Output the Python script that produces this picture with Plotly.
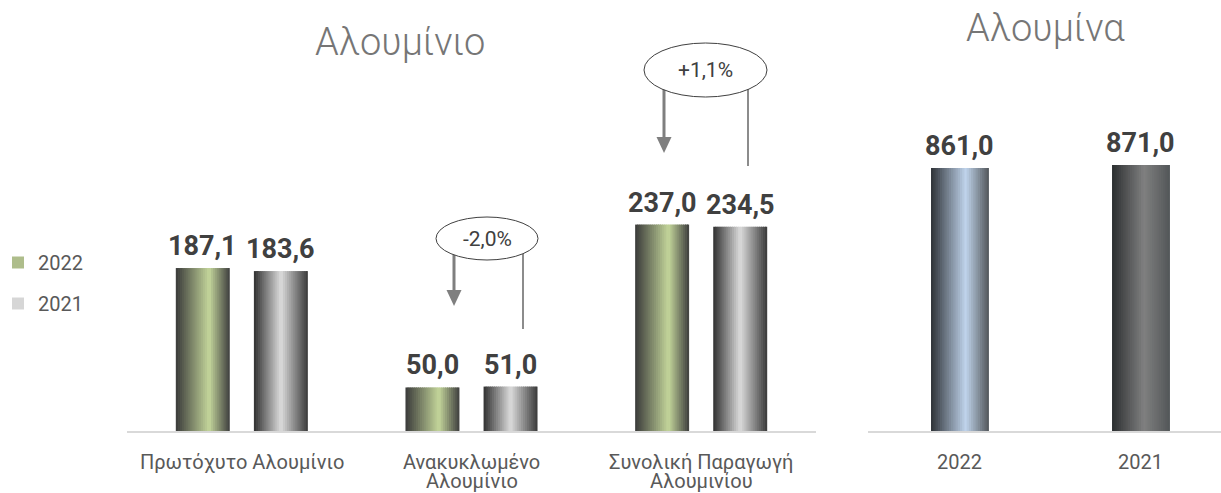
import plotly.graph_objects as go

# ---- data ----
CATEGORIES = ["Πρωτόχυτο Αλουμίνιο", "Ανακυκλωμένο<br>Αλουμίνιο", "Συνολική Παραγωγή<br>Αλουμινίου"]
ALU_2022 = [187.1, 50.0, 237.0]
ALU_2021 = [183.6, 51.0, 234.5]

ALUMINA_YEARS = ["2022", "2021"]
ALUMINA_VALUES = [861.0, 871.0]

W, H = 1221, 493
FONT = "Roboto, Inter, sans-serif"
TEXT_DARK = "#404040"
TICK_GREY = "#595959"

# gradient stops (position, rgb) - dark edges with a light streak
GREEN = [(0.0, (58, 58, 58)), (0.62, (196, 214, 155)), (1.0, (62, 62, 62))]
SILVER = [(0.0, (48, 48, 48)), (0.5, (220, 220, 220)), (1.0, (58, 58, 58))]
STEEL_BLUE = [(0.0, (46, 50, 55)), (0.6, (192, 212, 236)), (1.0, (82, 86, 90))]
GRAPHITE = [(0.0, (43, 46, 48)), (0.55, (128, 128, 128)), (1.0, (82, 86, 88))]


def mix(stops, t):
    for (p0, c0), (p1, c1) in zip(stops, stops[1:]):
        if p0 <= t <= p1:
            f = (t - p0) / (p1 - p0)
            return "rgb(%d,%d,%d)" % tuple(round(a + (b - a) * f) for a, b in zip(c0, c1))
    return "rgb(%d,%d,%d)" % stops[-1][1]


def fmt(v):
    return f"{v:.1f}".replace(".", ",")


def px(x):
    return x / W


def py(y):
    return 1 - y / H


def gradient_bars(fig, xs, ys, center, width, stops, name, xaxis, yaxis, legend, n=26):
    step = width / n
    left = center - width / 2
    for i in range(n):
        off = left + i * step
        fig.add_trace(go.Bar(
            x=xs, y=ys, offset=off, width=min(step * 1.5, center + width / 2 - off),
            marker=dict(color=mix(stops, (i + 0.5) / n), line=dict(width=0)),
            name=name, legendgroup=name, showlegend=legend and i == n // 2,
            xaxis=xaxis, yaxis=yaxis, hoverinfo="skip",
        ))


fig = go.Figure()

xs_left = list(range(len(CATEGORIES)))
xs_right = list(range(len(ALUMINA_YEARS)))
BAR_L, SHIFT_L = 0.235, 0.170
BAR_R = 0.32

gradient_bars(fig, xs_left, ALU_2022, -SHIFT_L, BAR_L, GREEN, "2022", "x", "y", True)
gradient_bars(fig, xs_left, ALU_2021, SHIFT_L, BAR_L, SILVER, "2021", "x", "y", True)
gradient_bars(fig, [xs_right[0]], [ALUMINA_VALUES[0]], 0, BAR_R, STEEL_BLUE, "a2022", "x2", "y2", False)
gradient_bars(fig, [xs_right[1]], [ALUMINA_VALUES[1]], 0, BAR_R, GRAPHITE, "a2021", "x2", "y2", False)

label_font = dict(size=27, color=TEXT_DARK, family=FONT, weight="bold")
annotations = []
for i, (a, b) in enumerate(zip(ALU_2022, ALU_2021)):
    for v, dx in ((a, -SHIFT_L), (b, SHIFT_L)):
        annotations.append(dict(x=i + dx, y=v, xref="x", yref="y", text=fmt(v),
                                showarrow=False, yanchor="bottom", yshift=4, font=label_font))
for i, v in enumerate(ALUMINA_VALUES):
    annotations.append(dict(x=i, y=v, xref="x2", yref="y2", text=fmt(v),
                            showarrow=False, yanchor="bottom", yshift=4, font=label_font))

# category labels under the axes (tighter line spacing than plotly's ticks allow)
tick_font = dict(size=20, color=TICK_GREY, family=FONT)
LINE_Y = [462, 481]
for xref, labels in (("x", CATEGORIES), ("x2", ALUMINA_YEARS)):
    for i, lab in enumerate(labels):
        for line, ypix in zip(lab.split("<br>"), LINE_Y):
            annotations.append(dict(x=i, y=py(ypix), xref=xref, yref="paper", text=line,
                                    xanchor="center", yanchor="middle", showarrow=False,
                                    font=tick_font))

# panel titles
title_font = dict(size=38, color="#767676", family=FONT, weight=300)
annotations.append(dict(x=px(400), y=py(42), xref="paper", yref="paper", text="Αλουμίνιο",
                        xanchor="center", yanchor="middle", showarrow=False, font=title_font))
annotations.append(dict(x=px(1045), y=py(28), xref="paper", yref="paper", text="Αλουμίνα",
                        xanchor="center", yanchor="middle", showarrow=False, font=title_font))


# percentage change bubbles
def pct(new, old):
    p = (new / old - 1) * 100
    return ("+" if p > 0 else "") + f"{p:.1f}".replace(".", ",") + "%"


shapes = []
bubbles = [
    # ellipse box, left arrow x, arrow tip y, right line x, right line end y, text
    ((436, 217, 538, 260), 454, 306, 523, 329, pct(ALU_2022[1], ALU_2021[1])),
    ((644, 43, 767, 97), 664, 153, 748, 166, pct(ALU_2022[2], ALU_2021[2])),
]
for (x0, y0, x1, y1), ax, tip, rx, rend, label in bubbles:
    cy = (y0 + y1) / 2
    shapes.append(dict(type="line", xref="paper", yref="paper", x0=px(ax), x1=px(ax),
                       y0=py(cy), y1=py(tip - 15), line=dict(color="#7f7f7f", width=3)))
    shapes.append(dict(type="path", xref="paper", yref="paper",
                       path=f"M {px(ax - 7.5)} {py(tip - 16)} L {px(ax + 7.5)} {py(tip - 16)} L {px(ax)} {py(tip)} Z",
                       fillcolor="#7f7f7f", line=dict(width=0)))
    shapes.append(dict(type="line", xref="paper", yref="paper", x0=px(rx), x1=px(rx),
                       y0=py(cy), y1=py(rend), line=dict(color="#8c8c8c", width=2)))
    shapes.append(dict(type="circle", xref="paper", yref="paper", x0=px(x0), x1=px(x1),
                       y0=py(y1), y1=py(y0), fillcolor="white", line=dict(color="#404040", width=1)))
    annotations.append(dict(x=px((x0 + x1) / 2), y=py(cy), xref="paper", yref="paper", text=label,
                            xanchor="center", yanchor="middle", showarrow=False,
                            font=dict(size=21, color=TEXT_DARK, family=FONT)))

y_dom = [py(431), py(40)]
axis_common = dict(showline=True, linecolor="#d9d9d9", linewidth=2, showgrid=False,
                   zeroline=False, ticks="", fixedrange=True, showticklabels=False,
                   automargin=False)

fig.update_layout(
    width=W, height=H,
    margin=dict(l=0, r=0, t=0, b=0, autoexpand=False),
    paper_bgcolor="white", plot_bgcolor="white",
    barmode="overlay", hovermode=False,
    font=dict(family=FONT, color=TICK_GREY),
    xaxis=dict(domain=[px(127), px(816)], range=[-0.5, 2.5], anchor="y", **axis_common),
    yaxis=dict(domain=y_dom, range=[0, 391 / 0.871], visible=False, anchor="x"),
    xaxis2=dict(domain=[px(868), 1.0], range=[-0.508, 1.442], anchor="y2", **axis_common),
    yaxis2=dict(domain=y_dom, range=[0, 391 / 0.3055], visible=False, anchor="x2"),
    legend=dict(x=px(-2), y=py(243), xanchor="left", yanchor="top", tracegroupgap=12,
                font=dict(size=20, color=TICK_GREY, family=FONT), itemwidth=30,
                bgcolor="rgba(0,0,0,0)"),
    annotations=annotations,
    shapes=shapes,
)

fig.write_html("out.html", config={"displayModeBar": False},
               post_script="document.body.style.margin='0';")
